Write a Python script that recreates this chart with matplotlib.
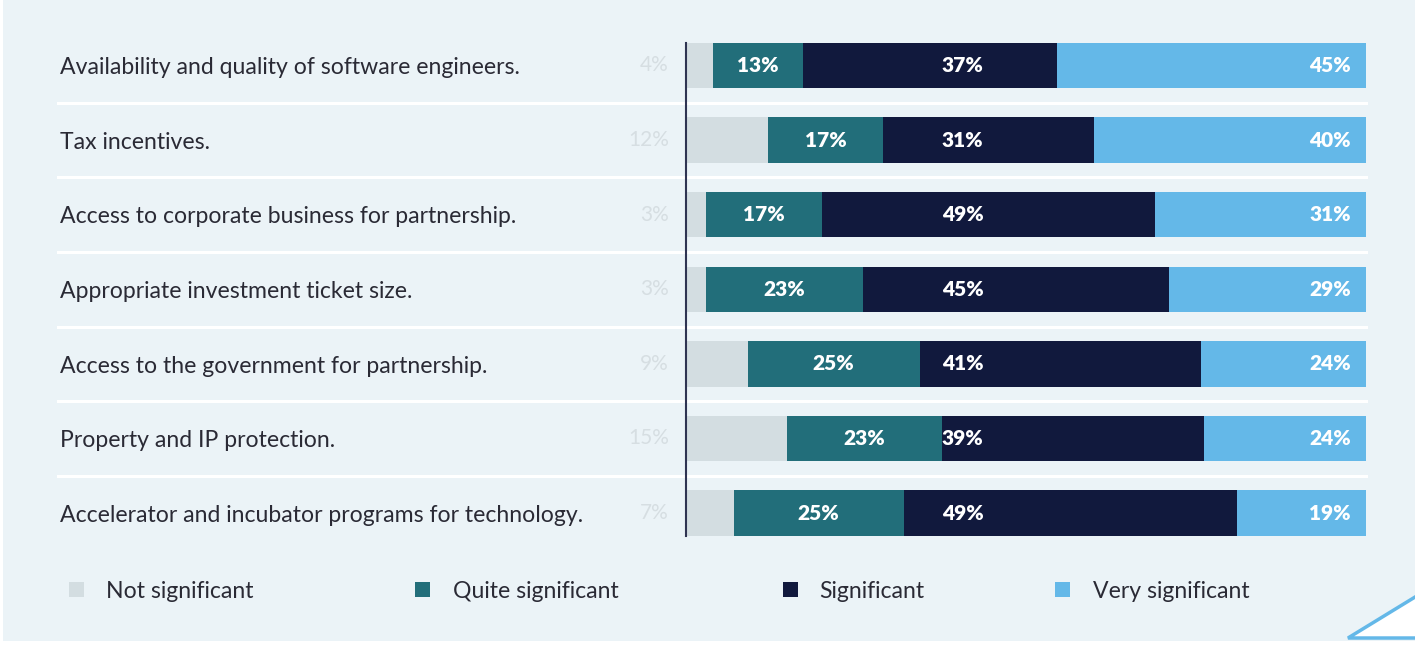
import numpy as np
import matplotlib
matplotlib.use("Agg")
import matplotlib.pyplot as plt
from matplotlib.patches import Rectangle, Polygon

# Données du graphique
categories = [
    "Availability and quality of software engineers.",
    "Tax incentives.",
    "Access to corporate business for partnership.",
    "Appropriate investment ticket size.",
    "Access to the government for partnership.",
    "Property and IP protection.",
    "Accelerator and incubator programs for technology.",
]
not_significant = [4, 12, 3, 3, 9, 15, 7]
quite_significant = [13, 17, 17, 23, 25, 23, 25]
significant = [37, 31, 49, 45, 41, 39, 49]
very_significant = [45, 40, 31, 29, 24, 24, 19]
series_names = ["Not significant", "Quite significant", "Significant", "Very significant"]

# Couleurs
BG = "#EBF3F7"
C_NOT = "#D3DDE1"
C_QUITE = "#226E7A"
C_SIG = "#11193D"
C_VERY = "#64B8E8"
TXT = "#2A2A35"
TXT_GREY = "#D6DEE2"
colors = [C_NOT, C_QUITE, C_SIG, C_VERY]

W, H = 1415, 645
fig = plt.figure(figsize=(W / 100, H / 100), dpi=100, facecolor="white")

def fx(px):
    return px / W

def fy(py):
    return 1 - py / H

# fond
fig.patches.append(Rectangle((fx(3), fy(641)), 1, fy(0) - fy(641), transform=fig.transFigure,
                             facecolor=BG, edgecolor="none", zorder=-10))

# axes : barres de x=686 px à x=1366 px
ax = fig.add_axes([fx(686), fy(550.3), fx(1366) - fx(686), fy(28.2) - fy(550.3)])
ax.set_facecolor("none")
for s in ax.spines.values():
    s.set_visible(False)
ax.set_xticks([])
ax.set_yticks([])

n = len(categories)
y = np.arange(n)
bar_h = 0.61

vals = np.array([not_significant, quite_significant, significant, very_significant], dtype=float)
totals = vals.sum(axis=0)
widths = vals / totals * 100
lefts = np.vstack([np.zeros(n), np.cumsum(widths, axis=0)[:-1]])

for k in range(4):
    ax.barh(y, widths[k], left=lefts[k], height=bar_h, color=colors[k], edgecolor="none", zorder=2)

ax.set_xlim(0, 100)
ax.set_ylim(n - 0.5, -0.5)

# séparateurs blancs
x_sep_start = (58 - 686) / 680 * 100
for i in range(n - 1):
    ax.plot([x_sep_start, 100], [i + 0.5, i + 0.5], color="white", lw=2.2, clip_on=False, zorder=1)

# axe vertical
ax.plot([0, 0], [-bar_h / 2, n - 1 + bar_h / 2], color="#2F3452", lw=1.5, zorder=3, clip_on=False)

# étiquettes
label_font = "Lato"
ytr = ax.get_yaxis_transform()
for i in range(n):
    ax.text(-0.92, y[i] + 0.03, categories[i], transform=ytr, ha="left", va="center",
            fontsize=16.6, color=TXT, family=label_font)
    ax.text(-2.5, y[i], f"{not_significant[i]}%", ha="right", va="center",
            fontsize=15, color=TXT_GREY, family=label_font)
    ax.text(lefts[1][i] + widths[1][i] / 2, y[i], f"{quite_significant[i]}%", ha="center", va="center",
            fontsize=15, color="white", fontweight="heavy", family=label_font, zorder=4)
    ax.text(40.7, y[i], f"{significant[i]}%", ha="center", va="center",
            fontsize=15, color="white", fontweight="heavy", family=label_font, zorder=4)
    ax.text(97.8, y[i], f"{very_significant[i]}%", ha="right", va="center",
            fontsize=15, color="white", fontweight="heavy", family=label_font, zorder=4)

# légende
legend_sq = [69, 415, 783, 1055]
legend_txt = [106, 453, 819, 1093]
for k in range(4):
    fig.patches.append(Rectangle((fx(legend_sq[k]), fy(597)), fx(15), fy(582) - fy(597),
                                 transform=fig.transFigure, facecolor=colors[k], edgecolor="none"))
    fig.text(fx(legend_txt[k]), fy(591), series_names[k], ha="left", va="center",
             fontsize=16.6, color=TXT, family=label_font)

# triangle décoratif
tri = Polygon([(fx(1348), fy(638)), (fx(1420), fy(594)), (fx(1420), fy(638))], closed=True,
              transform=fig.transFigure, facecolor="white", edgecolor=C_VERY, lw=2.5)
fig.patches.append(tri)

fig.savefig("out.png", dpi=100, facecolor=fig.get_facecolor())
